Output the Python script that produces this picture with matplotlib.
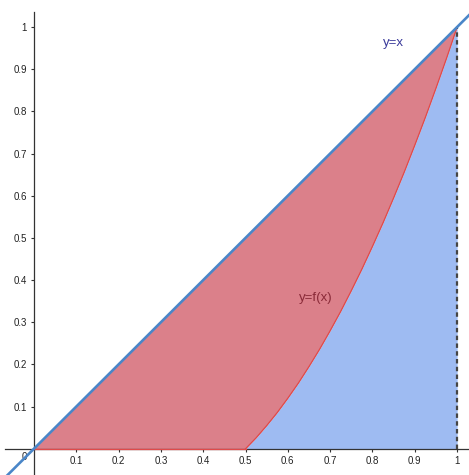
import matplotlib
matplotlib.use("Agg")
import matplotlib.pyplot as plt

# curve y=f(x)
fx = [0.5, 0.525, 0.55, 0.575, 0.6, 0.625, 0.65, 0.675, 0.7, 0.725, 0.75,
      0.775, 0.8, 0.825, 0.85, 0.875, 0.9, 0.925, 0.95, 0.975, 1.0]
fy = [0.0, 0.026, 0.055, 0.086, 0.12, 0.156, 0.195, 0.236, 0.28, 0.326, 0.375,
      0.426, 0.48, 0.536, 0.595, 0.656, 0.72, 0.786, 0.855, 0.926, 1.0]

# line y=x drawn across the whole view
line_x = [-0.1, 1.1]
line_y = [-0.1, 1.1]

xticks = [0.1, 0.2, 0.3, 0.4, 0.5, 0.6, 0.7, 0.8, 0.9, 1]
xticklabels = ["0.1", "0.2", "0.3", "0.4", "0.5", "0.6", "0.7", "0.8", "0.9", "1"]
yticks = [0.1, 0.2, 0.3, 0.4, 0.5, 0.6, 0.7, 0.8, 0.9, 1]
yticklabels = ["0.1", "0.2", "0.3", "0.4", "0.5", "0.6", "0.7", "0.8", "0.9", "1"]

plt.rcParams['font.family'] = ['Liberation Sans', 'DejaVu Sans']

fig = plt.figure(figsize=(4.69, 4.75), dpi=100)
ax = fig.add_axes([0, 0, 1, 1])
ax.set_xlim(-0.08, 1.028)
ax.set_ylim(-0.062, 1.064)

# red region between y=x and f (f taken as 0 left of 0.5)
red_x = [0.0] + fx
red_low = [0.0] + fy
ax.fill_between(red_x, red_x, red_low, color="#db808a", lw=0, zorder=1)
# blue region under f
ax.fill_between(fx, fy, 0, color="#9ebbf2", lw=0, zorder=1)

ax.plot(fx, fy, color="#e04a4a", lw=0.9, zorder=3)
ax.plot([0, 0.5], [0, 0], color="#e04a4a", lw=0.9, zorder=3)
ax.plot([1, 1], [0, 1], color="#444444", lw=1.6, ls=(0, (2, 1.5)), zorder=3)
ax.plot(line_x, line_y, color="#4a86c8", lw=1.9, zorder=4)

ax.text(0.849, 0.962, "y=x", color="#3a3a9a", fontsize=9.5, ha="center", va="center")
ax.text(0.667, 0.358, "y=f(x)", color="#8a2a38", fontsize=9.5, ha="center", va="center")

# axes through the origin
for s in ["top", "right"]:
    ax.spines[s].set_visible(False)
ax.spines["left"].set_position(("data", 0))
ax.spines["bottom"].set_position(("data", 0))
ax.spines["left"].set_bounds(-0.062, 1.036)
ax.spines["bottom"].set_bounds(-0.069, 1.028)
for s in ["left", "bottom"]:
    ax.spines[s].set_color("#333333")
    ax.spines[s].set_linewidth(0.9)
    ax.spines[s].set_zorder(2)

ax.set_xticks(xticks)
ax.set_xticklabels(xticklabels)
ax.set_yticks(yticks)
ax.set_yticklabels(yticklabels)
ax.tick_params(axis="both", direction="out", length=2.5, width=0.8, color="#333333",
               labelsize=7, labelcolor="#222222", pad=2.5)
ax.text(-0.022, -0.02, "0", fontsize=7, color="#222222", ha="center", va="center")

fig.savefig("out.png", dpi=100)
